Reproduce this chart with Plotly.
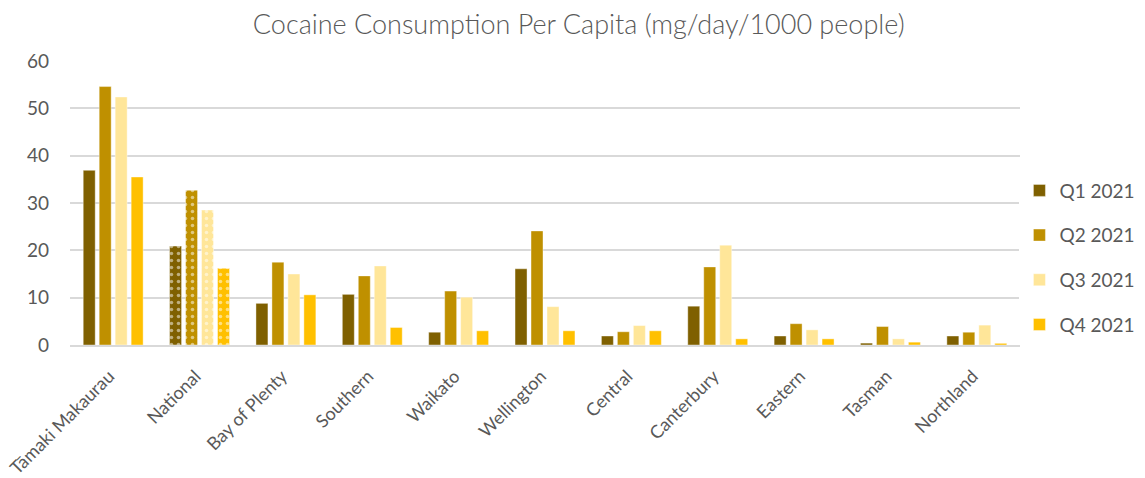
import plotly.graph_objects as go

categories = ["Tāmaki Makaurau", "National", "Bay of Plenty", "Southern", "Waikato",
              "Wellington", "Central", "Canterbury", "Eastern", "Tasman", "Northland"]
q1_2021 = [36.9, 20.9, 8.8, 10.7, 2.7, 16.1, 1.9, 8.2, 1.9, 0.4, 1.9]
q2_2021 = [54.6, 32.7, 17.5, 14.6, 11.4, 24.1, 2.8, 16.5, 4.5, 3.9, 2.7]
q3_2021 = [52.4, 28.5, 15.0, 16.7, 10.1, 8.1, 4.1, 21.1, 3.2, 1.3, 4.2]
q4_2021 = [35.5, 16.2, 10.6, 3.7, 3.0, 3.0, 3.0, 1.3, 1.3, 0.6, 0.35]
series_names = ["Q1 2021", "Q2 2021", "Q3 2021", "Q4 2021"]
y_ticks = [0, 10, 20, 30, 40, 50, 60]

colors = ["#7F6000", "#BF9000", "#FFE699", "#FFC000"]
patterned = ["National"]

FONT = "Lato, Carlito, 'Open Sans', sans-serif"
GREY = "#595959"

fig = go.Figure()
for i, (name, vals) in enumerate(zip(series_names, [q1_2021, q2_2021, q3_2021, q4_2021])):
    shapes = ["." if c in patterned else "" for c in categories]
    fig.add_trace(go.Bar(
        x=categories, y=vals, name=name,
        legendgroup=name,
        marker=dict(
            color=colors[i],
            line=dict(color="rgba(255,255,255,0.5)", width=0.8),
            pattern=dict(shape=shapes, fgcolor="white", size=7, solidity=0.2,
                         fillmode="overlay"),
        ),
    ))

# page body has an 8px default margin; figure is sized/offset to compensate
fig.update_layout(
    width=1137, height=470,
    paper_bgcolor="white", plot_bgcolor="white",
    margin=dict(l=62, r=125, t=53, b=133, autoexpand=False),
    title=dict(text="Cocaine Consumption Per Capita (mg/day/1000 people)",
               x=0.502, xanchor="center", y=0.964, yanchor="middle",
               font=dict(family=FONT, size=27, color=GREY, weight=300)),
    barmode="group", bargap=0.26, bargroupgap=0.25,
    font=dict(family=FONT, color=GREY),
    legend=dict(x=0.9994, xanchor="left", y=0.308, yanchor="middle",
                font=dict(family=FONT, size=19, color=GREY),
                tracegroupgap=17, itemwidth=30),
    showlegend=True,
)
fig.update_xaxes(tickangle=-45, tickfont=dict(family=FONT, size=18, color=GREY),
                 showline=True, linecolor="#D9D9D9", linewidth=1.5, ticks="",
                 showgrid=False, automargin=False,
                 ticklabelshift=-4, ticklabelstandoff=12)
fig.update_yaxes(range=[0, 60], tickvals=y_ticks, tickfont=dict(family=FONT, size=19, color=GREY),
                 gridcolor="#D9D9D9", gridwidth=1.5, zeroline=False, ticks="",
                 ticklabelstandoff=20, automargin=False)

fig.write_html("out.html")
